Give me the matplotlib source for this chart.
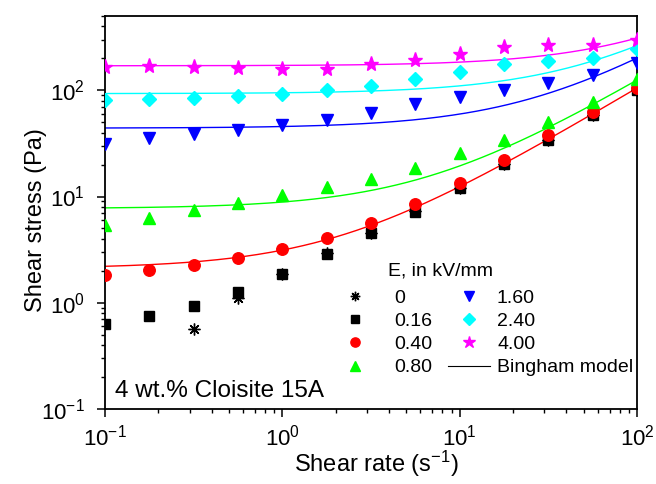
import matplotlib
matplotlib.use("Agg")
import matplotlib.pyplot as plt
import numpy as np
from matplotlib.lines import Line2D
from matplotlib.ticker import LogLocator, NullFormatter

plt.rcParams['font.family'] = ['Liberation Sans', 'DejaVu Sans']
plt.rcParams['mathtext.fontset'] = 'custom'
plt.rcParams['mathtext.rm'] = 'Liberation Sans'
plt.rcParams['mathtext.it'] = 'Liberation Sans'
plt.rcParams['mathtext.bf'] = 'Liberation Sans'
plt.rcParams['axes.unicode_minus'] = False

# Shear rate (s^-1)
rate = [0.1, 0.178, 0.316, 0.562, 1.0, 1.78, 3.16, 5.62, 10.0, 17.8, 31.6, 56.2, 100.0]
rate_e0 = [0.316, 0.562, 1.0, 1.78, 3.16, 5.62, 10.0, 17.8, 31.6, 56.2, 100.0]

# Shear stress (Pa) per field strength
stress_e0 = [0.57, 1.10, 1.86, 2.94, 4.54, 7.3, 12.1, 20.4, 33.7, 58.1, 100]
stress_016 = [0.63, 0.75, 0.93, 1.26, 1.86, 2.88, 4.54, 7.2, 12.1, 20.4, 33.7, 58.1, 100]
stress_040 = [1.82, 2.03, 2.26, 2.64, 3.21, 4.08, 5.65, 8.55, 13.5, 22.3, 37.6, 62.1, 105]
stress_080 = [5.4, 6.3, 7.5, 8.7, 10.4, 12.4, 14.7, 18.7, 25.4, 33.7, 49.9, 77.1, 127]
stress_160 = [31.5, 35.3, 38.5, 41.9, 46.7, 52.2, 60.7, 73.8, 86, 100, 117, 139, 180]
stress_240 = [80.6, 82.4, 84.2, 88, 91.9, 100, 109, 127, 148, 177, 188, 201, 245]
stress_400 = [166, 168, 165, 163, 158, 158, 177, 193, 219, 256, 267, 267, 298]

# Bingham model parameters: yield stress (Pa), plastic viscosity (Pa s)
field_labels = ['0.40', '0.80', '1.60', '2.40', '4.00']
tau0 = [2.1, 7.7, 44, 93, 170]
eta = [1.03, 1.17, 1.57, 1.7, 1.4]

colors = {'0': 'black', '0.16': 'black', '0.40': '#FF0000', '0.80': '#00FF00',
          '1.60': '#0000FF', '2.40': '#00FFFF', '4.00': '#FF00FF'}

W, H = 656, 484
L, R, T, B = 105, 637, 16, 409
fig = plt.figure(figsize=(W/100, H/100), dpi=100)
ax = fig.add_axes([L/W, 1 - B/H, (R-L)/W, (B-T)/H])
ax.set_xscale('log')
ax.set_yscale('log')
ax.set_xlim(0.1, 100)
ax.set_ylim(0.1, 500)

def axx(px):
    return (px - L) / (R - L)

def axy(py):
    return (B - py) / (B - T)

g = np.logspace(-1, 2, 200)
for lab, t0, e in zip(field_labels, tau0, eta):
    ax.plot(g, t0 + e * g, color=colors[lab], lw=1.0, zorder=2)

series = [
    ('0', rate_e0, stress_e0, dict(marker=(8, 2, 0), ms=8.5, mew=1.0, mfc='none')),
    ('0.16', rate, stress_016, dict(marker='s', ms=6.8)),
    ('0.40', rate, stress_040, dict(marker='o', ms=8.3)),
    ('0.80', rate, stress_080, dict(marker='^', ms=8.5)),
    ('1.60', rate, stress_160, dict(marker='v', ms=8.5)),
    ('2.40', rate, stress_240, dict(marker='D', ms=7.5)),
    ('4.00', rate, stress_400, dict(marker='*', ms=11)),
]
handles = []
for lab, x, y, kw in series:
    h, = ax.plot(x, y, ls='none', color=colors[lab], mec=colors[lab],
                 label=lab, zorder=3, **kw)
    handles.append(h)

bh = Line2D([], [], color='black', lw=0.8)
labels = [s[0] for s in series]

fs_leg = 14
em = fs_leg * 100 / 72
hl = 42 / em
leg_common = dict(frameon=False, loc='upper left', fontsize=fs_leg,
                  handlelength=hl, labelspacing=0.29, borderaxespad=0,
                  borderpad=0, markerscale=0.8)
leg1 = ax.legend(handles[:4], labels[:4], handletextpad=18/em,
                 bbox_to_anchor=(axx(355 - 21), axy(289)), **leg_common)
ax.add_artist(leg1)
leg2 = ax.legend(handles[4:] + [bh], labels[4:] + ['Bingham model'],
                 handletextpad=7/em,
                 bbox_to_anchor=(axx(448), axy(289)), **leg_common)
ax.text(axx(388), axy(271), 'E, in kV/mm', transform=ax.transAxes,
        fontsize=fs_leg, ha='left', va='center')

ax.text(axx(115), axy(397), '4 wt.% Cloisite 15A', transform=ax.transAxes,
        fontsize=17.5, ha='left', va='baseline')

ax.set_xlabel('Shear rate (s$^{-1}$)', fontsize=17)
ax.set_ylabel('Shear stress (Pa)', fontsize=17)
ax.xaxis.set_label_coords(0.51, axy(449))
ax.yaxis.set_label_coords(axx(47), 0.48)

for sp in ax.spines.values():
    sp.set_linewidth(1.3)
ax.tick_params(which='major', direction='out', length=6, width=1.1, labelsize=16,
               top=False, right=False, pad=5)
ax.tick_params(axis='y', which='major', pad=8.5)
ax.tick_params(which='minor', direction='out', length=3, width=1.0,
               top=False, right=False)
ax.xaxis.set_minor_locator(LogLocator(base=10, subs=np.arange(2, 10), numticks=20))
ax.yaxis.set_minor_locator(LogLocator(base=10, subs=np.arange(2, 10), numticks=20))
ax.xaxis.set_minor_formatter(NullFormatter())
ax.yaxis.set_minor_formatter(NullFormatter())
ax.set_yticks([0.1, 1, 10, 100])

fig.savefig('out.png', dpi=100)
